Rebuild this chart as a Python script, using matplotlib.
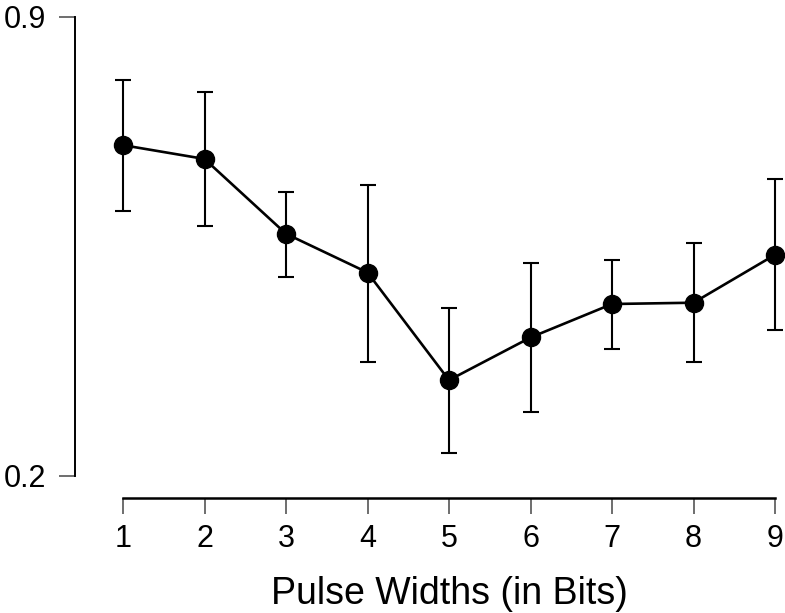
import matplotlib
matplotlib.use("Agg")
import matplotlib.pyplot as plt
import numpy as np

# mean and interval bounds per pulse width
pulse_widths = [1, 2, 3, 4, 5, 6, 7, 8, 9]
means = [0.704, 0.683, 0.569, 0.510, 0.346, 0.411, 0.462, 0.464, 0.537]
lower = [0.604, 0.581, 0.503, 0.374, 0.235, 0.298, 0.393, 0.373, 0.422]
upper = [0.803, 0.785, 0.633, 0.644, 0.456, 0.525, 0.529, 0.555, 0.652]
y_ticks = [0.2, 0.9]

plt.rcParams["font.family"] = ["Liberation Sans", "DejaVu Sans"]

fig = plt.figure(figsize=(7.85, 6.13), dpi=100)
ax = fig.add_axes([90 / 785, 123 / 613, 695 / 785, 480 / 613])

m = np.array(means)
yerr = [m - np.array(lower), np.array(upper) - m]
ax.errorbar(pulse_widths, means, yerr=yerr, fmt="o-", color="black",
            markersize=13, linewidth=1.9, elinewidth=1.5, capsize=6,
            capthick=1.5)

ax.set_xlim(1 - 33 / 81.5, 9 + 10 / 81.5)
ax.set_ylim(0.2 - 14 / 656.4, 0.9 + 6.5 / 656.4)

# R-style detached axes
for side in ("top", "right"):
    ax.spines[side].set_visible(False)
ax.spines["left"].set_position(("outward", 10.8))
ax.spines["bottom"].set_position(("outward", 5.8))
ax.spines["left"].set_bounds(0.2, 0.9)
ax.spines["bottom"].set_bounds(1, 9)
ax.spines["left"].set_linewidth(1.4)
ax.spines["bottom"].set_linewidth(1.8)

ax.set_xticks(pulse_widths)
ax.set_yticks(y_ticks)
ax.set_yticklabels(["0.2", "0.9"])
ax.tick_params(axis="both", length=11.5, width=1.2, color="#555555",
               labelsize=22)
ax.tick_params(axis="y", pad=9)
ax.tick_params(axis="x", pad=7)

# label centred under the drawn x-axis segment rather than the axes box
ax.set_xlabel("Pulse Widths (in Bits)", fontsize=27, labelpad=16)
ax.xaxis.label.set_x((449 - 90) / 695)

fig.savefig("out.png", dpi=100)
